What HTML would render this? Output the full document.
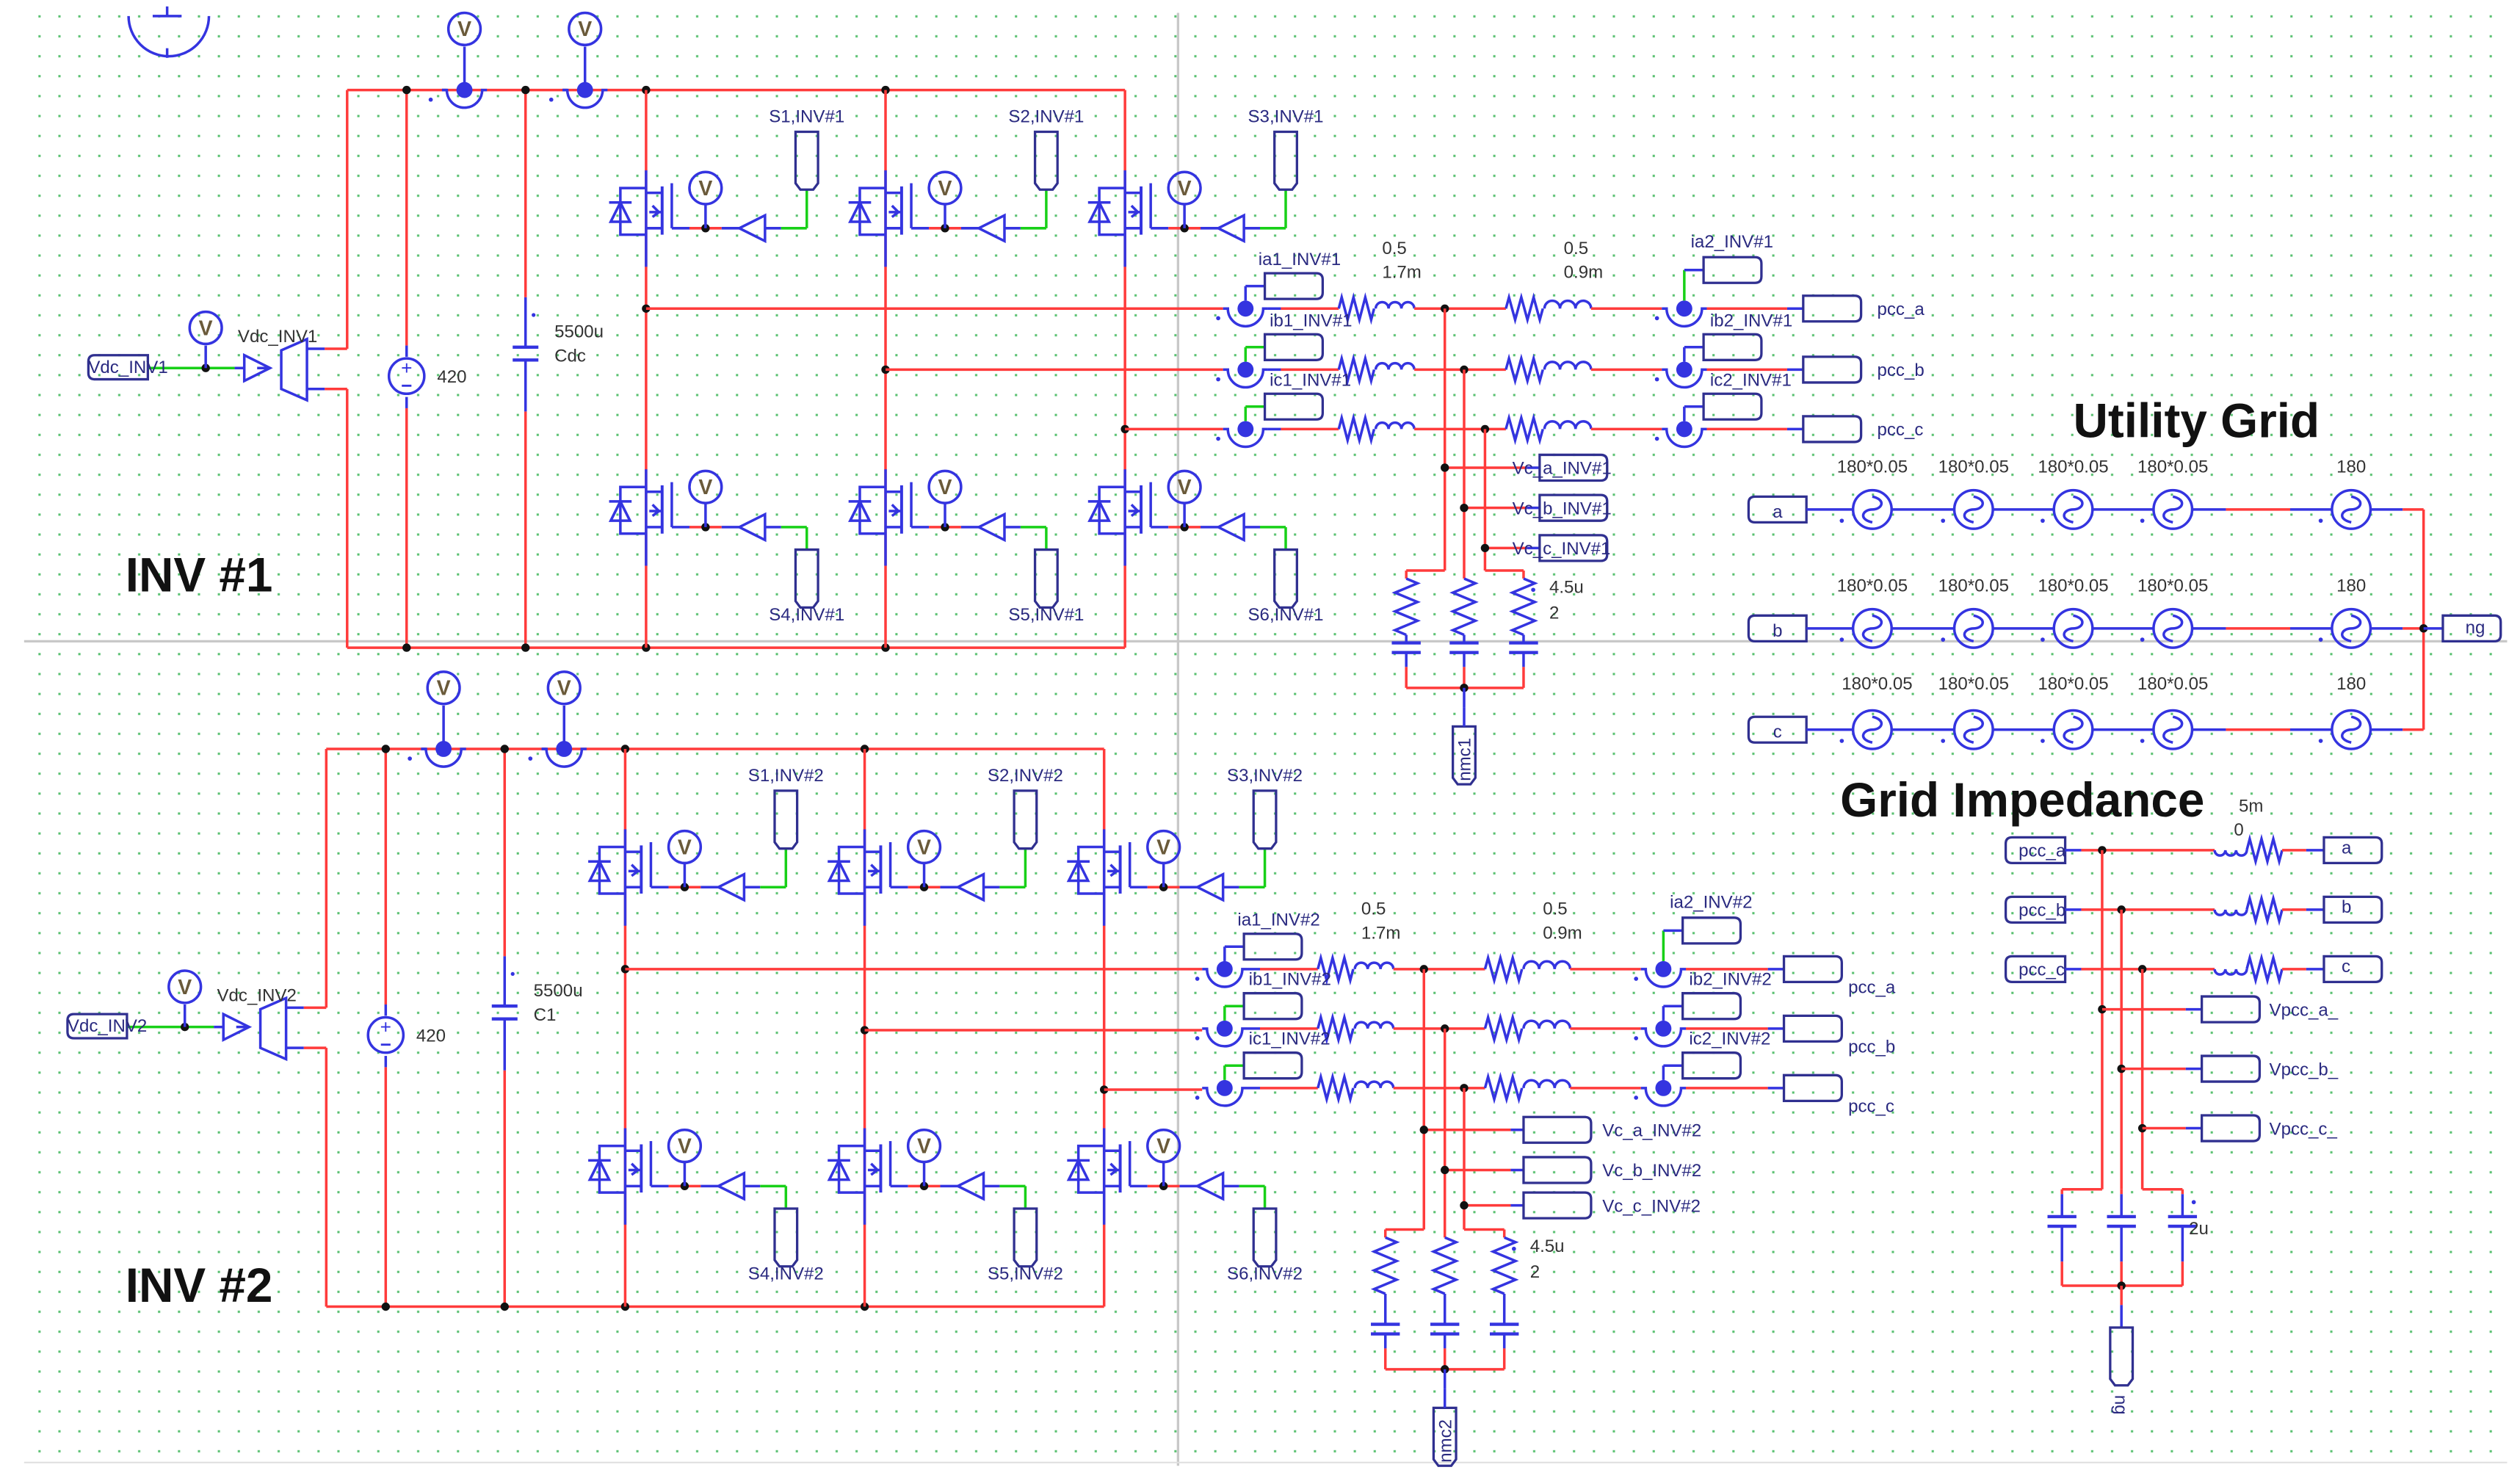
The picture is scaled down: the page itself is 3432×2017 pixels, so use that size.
<!DOCTYPE html>
<html><head><meta charset="utf-8"><style>
html,body{margin:0;padding:0;background:#fff;}
svg{display:block;}
text{font-family:"Liberation Sans",sans-serif;}
</style></head><body>
<svg id="s" xmlns="http://www.w3.org/2000/svg" width="3432" height="2017" viewBox="0 0 1568 921.5" preserveAspectRatio="none">
<defs>
<pattern id="dots" x="6" y="4" width="12.4" height="12.4" patternUnits="userSpaceOnUse">
<rect x="5.5" y="5.5" width="1.4" height="1.4" fill="#58c070"/>
</pattern>
</defs>
<rect x="0" y="0" width="1568" height="921.5" fill="#fff"/>
<rect x="14" y="0" width="1545" height="912" fill="url(#dots)"/>
<line x1="733" y1="8" x2="733" y2="912" stroke="#c8c8c8" stroke-width="1.5"/>
<line x1="15" y1="399" x2="1560" y2="399" stroke="#c8c8c8" stroke-width="1.5"/>
<line x1="15" y1="910" x2="1560" y2="910" stroke="#e0e0e0" stroke-width="1"/>
<g id="g"></g>
</svg>
<script>
var R="#ff3b3b",B="#3434e0",G="#18d018",K="#111",T="#2a2a80";
var out=[];
function L(x1,y1,x2,y2,c,w){out.push('<line x1="'+x1+'" y1="'+y1+'" x2="'+x2+'" y2="'+y2+'" stroke="'+(c||R)+'" stroke-width="'+(w||1.6)+'"/>');}
function P(d,c,w,f){out.push('<path d="'+d+'" stroke="'+(c||B)+'" stroke-width="'+(w||1.6)+'" fill="'+(f||'none')+'"/>');}
function D(x,y,r,c){out.push('<circle cx="'+x+'" cy="'+y+'" r="'+(r||2.6)+'" fill="'+(c||K)+'"/>');}
function C(x,y,r,c,w){out.push('<circle cx="'+x+'" cy="'+y+'" r="'+r+'" stroke="'+(c||B)+'" stroke-width="'+(w||1.6)+'" fill="none"/>');}
function Tx(x,y,s,sz,c,extra){out.push('<text x="'+x+'" y="'+y+'" font-size="'+(sz||11)+'" fill="'+(c||T)+'" '+(extra||'')+'>'+s+'</text>');}
function VM(x,y){C(x,y,10);out.push('<text x="'+x+'" y="'+(y+4.5)+'" font-size="13" text-anchor="middle" font-family="Liberation Serif" font-weight="bold" fill="#6a5a3a">V</text>');}
function AM(x,y){P('M'+(x-14)+' '+y+' L'+(x-11)+' '+y+' A11 11 0 0 0 '+(x+11)+' '+y+' L'+(x+14)+' '+y);D(x,y,5,B);D(x-17,y+6,1.3,B);}
function box(x1,y1,x2,y2){P('M'+x1+' '+y1+' L'+(x2-4)+' '+y1+' Q'+x2+' '+y1+' '+x2+' '+(y1+4)+' L'+x2+' '+(y2-4)+' Q'+x2+' '+y2+' '+(x2-4)+' '+y2+' L'+x1+' '+y2+' Z','#303090',1.5);}
function lbox(x1,y1,x2,y2){P('M'+(x1+4)+' '+y1+' L'+x2+' '+y1+' L'+x2+' '+y2+' L'+(x1+4)+' '+y2+' Q'+x1+' '+y2+' '+x1+' '+(y2-4)+' L'+x1+' '+(y1+4)+' Q'+x1+' '+y1+' '+(x1+4)+' '+y1+' Z','#303090',1.5);}
function vbox(x1,y1,x2,y2){P('M'+x1+' '+y1+' L'+x2+' '+y1+' L'+x2+' '+(y2-4)+' L'+(x2-3)+' '+y2+' L'+(x1+3)+' '+y2+' L'+x1+' '+(y2-4)+' Z','#303090',1.5);}
function res(x1,x2,y){var n=6,s=(x2-x1)/n,d='M'+x1+' '+y;for(var i=0;i<n;i++){d+=' L'+(x1+s*(i+0.5))+' '+(y+(i%2?7:-7));}d+=' L'+x2+' '+y;P(d);}
function vres(x,y1,y2){var n=6,s=(y2-y1)/n,d='M'+x+' '+y1;for(var i=0;i<n;i++){d+=' L'+(x+(i%2?-7:7))+' '+(y1+s*(i+0.5));}d+=' L'+x+' '+y2;P(d);}
function ind(x1,x2,y,down){var n=3,s=(x2-x1)/n,d='M'+x1+' '+y;for(var i=0;i<n;i++){d+=' A'+(s/2)+' '+(s/2)+' 0 0 '+(down?0:1)+' '+(x1+s*(i+1))+' '+y;}P(d);}
function vcap(x,y){L(x-9,y-3,x+9,y-3,B,2);L(x-9,y+3,x+9,y+3,B,2);}
function acs(x,y){C(x,y,12);P('M'+x+' '+(y-8)+' C'+(x+9)+' '+(y-6)+' '+(x+6)+' '+y+' '+x+' '+y+' C'+(x-6)+' '+y+' '+(x-9)+' '+(y+6)+' '+x+' '+(y+8));D(x-19,y+7,1.3,B);}
function mos(X,yg){
 var top=yg-36,bot=yg+24;
 L(X,top,X,bot,B);
 L(X,yg-22,X+10,yg-22,B);L(X,yg,X+10,yg,B);L(X+10,yg-26,X+10,yg+4,B,1.8);
 L(X+16,yg-28,X+16,yg,B);
 P('M'+(X+2)+' '+(yg-10)+' L'+(X+10)+' '+(yg-10)+' M'+(X+4)+' '+(yg-14)+' L'+(X+8)+' '+(yg-10)+' L'+(X+4)+' '+(yg-7));
 P('M'+X+' '+(yg-25)+' L'+(X-16)+' '+(yg-25)+' L'+(X-16)+' '+(yg+4)+' L'+X+' '+(yg+4));
 P('M'+(X-23)+' '+(yg-16)+' L'+(X-9)+' '+(yg-16)+' M'+(X-22)+' '+(yg-4)+' L'+(X-10)+' '+(yg-4)+' L'+(X-16)+' '+(yg-16)+' Z');
}
function sw(X,yg,lbl,upper){
 mos(X,yg);
 L(X+16,yg,X+27,yg,B);L(X+27,yg,X+47,yg,R);L(X+47,yg,X+58,yg,B);
 D(X+37,yg);L(X+37,yg,X+37,yg-15,B);VM(X+37,yg-25);
 P('M'+(X+58)+' '+yg+' L'+(X+74)+' '+(yg-8)+' L'+(X+74)+' '+(yg+8)+' Z');
 L(X+74,yg,X+84,yg,B);L(X+84,yg,X+100,yg,G);
 if(upper){L(X+100,yg,X+100,yg-24,G);vbox(X+93,yg-60,X+107,yg-24);Tx(X+100,yg-66,lbl,11,T,'text-anchor="middle"');}
 else{L(X+100,yg,X+100,yg+14,G);vbox(X+93,yg+14,X+107,yg+50);Tx(X+100,yg+58,lbl,11,T,'text-anchor="middle"');}
}
function inv(o){
 var dx=o.dx,dy=o.dy,top=56+dy,bot=403+dy,lx=216+dx,sx=253+dx,cx=327+dx,legs=[402+dx,551+dx,700+dx],n=o.n;
 L(lx,top,legs[2],top);L(lx,bot,legs[2],bot);
 L(lx,top,lx,217+dy);L(lx,242+dy,lx,bot);
 L(lx,217+dy,lx-14,217+dy);L(lx-14,217+dy,lx-25,217+dy,B);
 L(lx,242+dy,lx-14,242+dy);L(lx-14,242+dy,lx-25,242+dy,B);
 P('M'+(lx-25)+' '+(211+dy)+' L'+(lx-25)+' '+(249+dy)+' L'+(lx-41)+' '+(242+dy)+' L'+(lx-41)+' '+(218+dy)+' Z');
 P('M'+(lx-48)+' '+(229+dy)+' L'+(lx-64)+' '+(221+dy)+' L'+(lx-64)+' '+(237+dy)+' Z');
 L(lx-48,229+dy,lx-56,229+dy,B);L(lx-64,229+dy,lx-70,229+dy,B);
 L(lx-70,229+dy,lx-124,229+dy,G);D(lx-88,229+dy);L(lx-88,229+dy,lx-88,215+dy,B);VM(lx-88,204+dy);
 lbox(lx-161,221+dy,lx-124,236+dy);
 Tx(lx-161,232+dy,'Vdc_INV'+n,11,T);
 Tx(lx-68,213+dy,'Vdc_INV'+n,11,'#333');
 L(sx,top,sx,215+dy);L(sx,254+dy,sx,bot);L(sx,215+dy,sx,222+dy,B);L(sx,247+dy,sx,254+dy,B);
 C(sx,234+dy,11);Tx(sx,233+dy,'+',12,B,'text-anchor="middle"');L(sx-3,240+dy,sx+3,240+dy,B,1.3);
 Tx(sx+19,238+dy,'420',11,'#333');
 L(cx,top,cx,185+dy);L(cx,256+dy,cx,bot);L(cx,185+dy,cx,216+dy,B);L(cx,224+dy,cx,256+dy,B);
 L(cx-8,216+dy,cx+8,216+dy,B,2);L(cx-8,224+dy,cx+8,224+dy,B,2);D(cx+5,196+dy,1.2,B);
 Tx(cx+18,210+dy,'5500u',11,'#333');Tx(cx+18,225+dy,o.cn,11,'#333');
 [289+dx,364+dx].forEach(function(x){P('M'+(x-14)+' '+top+' L'+(x-11)+' '+top+' A11 11 0 0 0 '+(x+11)+' '+top+' L'+(x+14)+' '+top,B,1.6);L(x-14,top,x-11,top,B);D(x,top,5,B);D(x-21,top+6,1.3,B);L(x,top,x,29+dy,B);VM(x,18+dy);});
 [sx,cx,legs[0],legs[1]].forEach(function(x){D(x,top);D(x,bot);});
 var mids=[192,230,267];
 legs.forEach(function(X,i){
  L(X,top,X,bot);
  sw(X,142+dy,'S'+(i+1)+',INV#'+n,true);
  sw(X,328+dy,'S'+(i+4)+',INV#'+n,false);
  var my=mids[i]+dy+o.mdy; D(X,my); L(X,my,o.ax-14,my);
 });
}
function filt(o){
 var ax=o.ax,rows=o.rows,n=o.n,nx=o.nx,a2=o.a2;
 rows.forEach(function(y,i){
  var ph=['a','b','c'][i];
  AM(ax,y);
  L(ax+14,y,ax+22,y,B);
  var bx=ax+12;
  L(ax,y-5,ax,y-14,i==0?B:G);L(ax,y-14,bx,y-14,i==0?B:G);box(bx,y-22,bx+36,y-6);
  Tx(ax+(i==0?8:15),y-27,'i'+ph+'1_INV#'+n,11,T);
  L(ax+22,y,ax+58,y);
  res(ax+58,ax+80,y);ind(ax+81,ax+105,y);
  L(ax+105,y,ax+162,y);
  res(ax+162,ax+185,y);ind(ax+186,ax+215,y);
  L(ax+215,y,a2-14,y);
  AM(a2,y);
  if(i==0){L(a2,y-5,a2,y-24,G);L(a2,y-24,a2+12,y-24,B);box(a2+12,y-32,a2+48,y-16);Tx(a2+4,y-38,'i'+ph+'2_INV#'+n,11,T);}
  else{L(a2,y-5,a2,y-14,B);L(a2,y-14,a2+12,y-14,B);box(a2+12,y-22,a2+48,y-6);Tx(a2+16,y-27,'i'+ph+'2_INV#'+n,11,T);}
  L(a2+14,y,o.px-10,y);L(o.px-10,y,o.px,y,B);
  box(o.px,y-8,o.px+36,y+8);
  Tx(o.px+o.pl[0],y+o.pl[1],'pcc_'+ph,11,T);
 });
 Tx(ax+85,rows[0]-34,'0.5',11,'#333');Tx(ax+85,rows[0]-19,'1.7m',11,'#333');
 Tx(ax+198,rows[0]-34,'0.5',11,'#333');Tx(ax+198,rows[0]-19,'0.9m',11,'#333');
 nx.forEach(function(x,i){
  D(x,rows[i]);L(x,rows[i],x,o.jy);
  L(x,o.vt[i],o.vx,o.vt[i]);L(o.vx,o.vt[i],o.vx+8,o.vt[i],B);D(x,o.vt[i]);
  box(o.vx+8,o.vt[i]-8,o.vx+50,o.vt[i]+8);
  Tx(o.vl,o.vt[i]+4,'Vc_'+['a','b','c'][i]+'_INV#'+n,11,T);
  var rx=o.rx[i];
  L(x,o.jy,rx,o.jy);L(rx,o.jy,rx,o.jy+5);
  vres(rx,o.jy+5,o.jy+40);L(rx,o.jy+40,rx,o.cy-3,B);vcap(rx,o.cy);L(rx,o.cy+3,rx,o.cy+12,B);L(rx,o.cy+12,rx,o.by);
 });
 L(o.rx[0],o.by,o.rx[2],o.by);D(o.rx[1],o.by);L(o.rx[1],o.by,o.rx[1],o.by+12,B);
 vbox(o.rx[1]-7,o.by+24,o.rx[1]+7,o.by+60);L(o.rx[1],o.by+12,o.rx[1],o.by+24,B);
 Tx(0,0,'nmc'+n,11,T,'transform="translate('+(o.rx[1]+4)+','+(o.by+58)+') rotate(-90)"');
 Tx(o.rx[2]+16,o.jy+14,'4.5u',11,'#333');Tx(o.rx[2]+16,o.jy+30,'2',11,'#333');
 D(o.rx[2]+6,o.jy+12,1.3,B);
}
inv({dx:0,dy:0,n:1,cn:'Cdc',ax:775,mdy:0});
inv({dx:-13,dy:410,n:2,cn:'C1',ax:762,mdy:1});
filt({ax:775,rows:[192,230,267],n:1,nx:[899,911,924],a2:1048,px:1122,pl:[46,4],jy:355,vt:[291,316,341],vx:950,vl:941,rx:[875,911,948],cy:403,by:428});
filt({ax:762,rows:[603,640,677],n:2,nx:[886,899,911],a2:1035,px:1110,pl:[40,15],jy:765,vt:[703,728,750],vx:940,vl:997,rx:[862,899,936],cy:827,by:852});
Tx(1290,272,'Utility Grid',30,'#111','font-weight="bold"');
var urows=[317,391,454],ux=[1165,1228,1290,1352,1463];
urows.forEach(function(y,i){
 lbox(1088,y-8,1124,y+8);Tx(1106,y+5,['a','b','c'][i],11,T,'text-anchor="middle"');
 L(1124,y,1153,y,B);
 ux.forEach(function(x,j){acs(x,y);Tx(x+(i==2&&j==0?3:0),y-23+(i==2?-2:0),j<4?'180*0.05':'180',11,'#333','text-anchor="middle"');});
 for(var j=0;j<3;j++)L(ux[j]+12,y,ux[j+1]-12,y,B);
 L(1364,y,1385,y,B);L(1385,y,1425,y);L(1425,y,1451,y,B);
 L(1475,y,1495,y,B);L(1495,y,1508,y);
});
L(1508,317,1508,454);D(1508,391);L(1508,391,1520,391,B);
box(1520,383,1556,399);Tx(1534,394,'ng',11,T);
Tx(1145,508,'Grid Impedance',30,'#111','font-weight="bold"');
Tx(1393,505,'5m',11,'#333');Tx(1390,520,'0',11,'#333');
var gy=[529,566,603],gx=[1308,1320,1333],vy=[628,665,702],cx2=[1283,1320,1358];
gy.forEach(function(y,i){
 lbox(1248,y-8,1285,y+8);Tx(1256,y+4,'pcc_'+['a','b','c'][i],11,T);
 L(1285,y,1295,y,B);L(1295,y,1378,y);
 ind(1378,1398,y,true);res(1398,1420,y);
 L(1420,y,1435,y);L(1435,y,1446,y,B);
 box(1446,y-8,1482,y+8);Tx(1457,y+2,['a','b','c'][i],11,T);
});
gx.forEach(function(x,i){
 D(x,gy[i]);L(x,gy[i],x,740);D(x,vy[i]);L(x,vy[i],1360,vy[i]);L(1360,vy[i],1370,vy[i],B);
 box(1370,vy[i]-8,1406,vy[i]+8);Tx(1412,vy[i]+4,'Vpcc_'+['a','b','c'][i]+'_',11,T);
 var c=cx2[i];L(x,740,c,740);L(c,740,c,743,R);L(c,743,c,757,B);vcap(c,760);L(c,763,c,785,B);L(c,785,c,800);
});
L(1283,800,1358,800);D(1320,800);L(1320,800,1320,812);L(1320,812,1320,826,B);
vbox(1313,826,1327,862);Tx(0,0,'ng',11,T,'transform="translate(1316,868) rotate(90)"');
Tx(1362,768,'2u',11,'#333');D(1365,748,1.3,B);
Tx(78,368,'INV #1',30,'#111','font-weight="bold"');
Tx(78,810,'INV #2',30,'#111','font-weight="bold"');
P('M80 10 A25 25 0 0 0 130 10',B,1.6);L(104,4,104,10,B);L(95,10,113,10,B);L(104,30,104,36,B);
document.getElementById('g').innerHTML=out.join('');
</script>
</body></html>
